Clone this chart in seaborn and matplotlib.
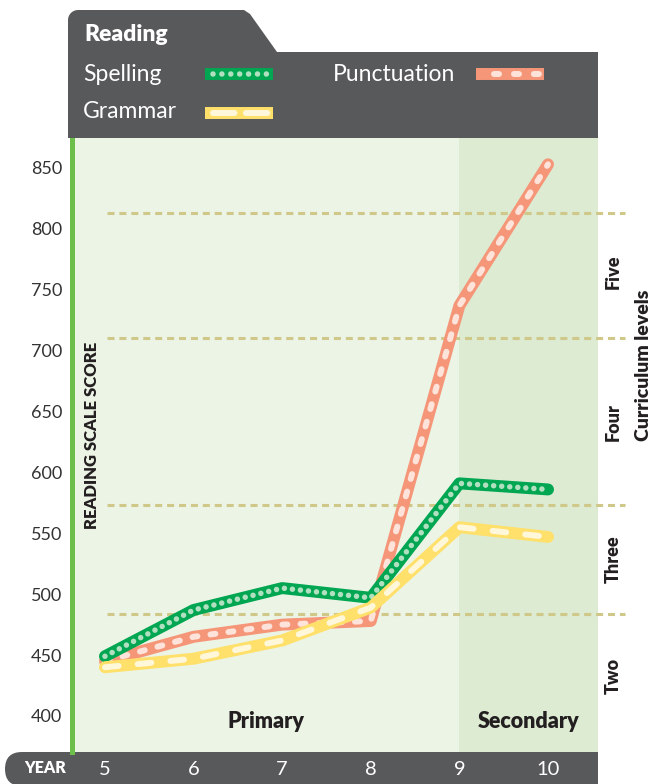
import numpy as np
import pandas as pd
import matplotlib
matplotlib.use("Agg")
import matplotlib.pyplot as plt
import matplotlib.font_manager as fm
import matplotlib.transforms as mtransforms
from matplotlib.patches import Polygon, FancyBboxPatch, Rectangle
from matplotlib.lines import Line2D
import seaborn as sns

# ---------------- data ----------------
years = [5, 6, 7, 8, 9, 10]
spelling = [449, 487, 505, 497, 591, 586]
punctuation = [445, 465, 475, 478, 737, 853]
grammar = [440, 447, 462, 489, 555, 547]
y_ticks = [400, 450, 500, 550, 600, 650, 700, 750, 800, 850]
level_bounds = [484, 573, 710, 813]
level_names = ["Two", "Three", "Four", "Five"]
stage_names = ["Primary", "Secondary"]
secondary_start = 9
title = "Reading"
y_label = "READING SCALE SCORE"
x_label = "YEAR"
right_label = "Curriculum levels"

# ---------------- styles ----------------
DARK = "#58595b"
TXT = "#231f20"
BG = "#ecf4e6"
BG2 = "#dcebd2"
BOLD = "heavy"
styles = {
    "Spelling": dict(outer="#00a651", inner="#b0e0bf", ls=(0, (0.001, 1.45)), ilw=4.0, z=4),
    "Punctuation": dict(outer="#f69679", inner="#fde3da", ls=(0, (0.84, 2.2)), ilw=4.3, z=3),
    "Grammar": dict(outer="#ffe06a", inner="#fff7d9", ls=(0, (2.3, 3.2)), ilw=4.3, z=5),
}

sns.set_theme(style="white")


def pick(cands):
    for c in cands:
        try:
            fm.findfont(fm.FontProperties(family=c), fallback_to_default=False)
            return c
        except Exception:
            pass
    return "DejaVu Sans"


FONT = pick(["Lato", "Liberation Sans", "DejaVu Sans"])
plt.rcParams["font.family"] = [FONT, "DejaVu Sans"]

W, H = 663, 784
fig = plt.figure(figsize=(W / 100, H / 100), dpi=100)
fig.patch.set_facecolor("white")
L, R, T, B = 72, 598, 138, 752
ax = fig.add_axes([L / W, 1 - B / H, (R - L) / W, (B - T) / H])
ax.set_facecolor(BG)
XMIN, XMAX = 4.628, 10.564
ax.set_xlim(XMIN, XMAX)
ax.set_ylim(370.4, 874.6)
ax.axvspan(secondary_start, XMAX, color=BG2, lw=0, zorder=0)

for s in ["top", "right", "bottom"]:
    ax.spines[s].set_visible(False)
ax.spines["left"].set_color("#6cbf4a")
ax.spines["left"].set_linewidth(3.6)

# curriculum level boundaries
for b in level_bounds:
    ax.axhline(b, xmin=0.066, xmax=1.051, color="#cfc889", lw=2.2,
               linestyle=(0, (2.3, 1.6)), clip_on=False, zorder=1)

# data lines
df = pd.DataFrame({
    "year": years * 3,
    "score": spelling + punctuation + grammar,
    "subject": ["Spelling"] * 6 + ["Punctuation"] * 6 + ["Grammar"] * 6,
})
for name in ["Punctuation", "Spelling", "Grammar"]:
    st = styles[name]
    sub = df[df["subject"] == name]
    sns.lineplot(data=sub, x="year", y="score", ax=ax, color=st["outer"], lw=8.6,
                 solid_capstyle="round", solid_joinstyle="round", zorder=st["z"],
                 estimator=None, sort=False)
    sns.lineplot(data=sub, x="year", y="score", ax=ax, color=st["inner"], lw=st["ilw"],
                 linestyle=st["ls"], dash_capstyle="round", dash_joinstyle="round",
                 zorder=st["z"] + 0.5, estimator=None, sort=False)

ax.set_xlabel("")
ax.set_ylabel("")
ax.set_yticks(y_ticks)
ax.set_yticklabels([str(v) for v in y_ticks])
ax.tick_params(axis="y", length=0, pad=7, labelsize=13, labelcolor="#333333")
ax.set_xticks(years)
ax.set_xticklabels([str(v) for v in years])
ax.tick_params(axis="x", length=0, pad=6.5, labelsize=14.5, labelcolor="white")
ax.grid(False)

# stage labels
stage_centers = [(XMIN + secondary_start) / 2, (secondary_start + XMAX) / 2]
tb = mtransforms.blended_transform_factory(ax.transData, ax.transAxes)
for nm, cx in zip(stage_names, stage_centers):
    ax.text(cx, 0.039, nm, transform=tb, ha="center", va="baseline",
            fontsize=15.5, fontweight=BOLD, color=TXT)

# y label inside
ax.text(0.038, 0.515, y_label, transform=ax.transAxes, rotation=90, ha="center",
        va="center", fontsize=12, fontweight=BOLD, color=TXT)

# level labels right
lv_edges = [382] + level_bounds + [820]
tr_r = mtransforms.blended_transform_factory(ax.transAxes, ax.transData)
for i, nm in enumerate(level_names):
    yc = (lv_edges[i] + lv_edges[i + 1]) / 2
    if nm == "Five":
        yc = (level_bounds[2] + level_bounds[3]) / 2 + 3
    ax.text(1.0285, yc, nm, transform=tr_r, rotation=90, ha="center", va="center",
            fontsize=13, fontweight=BOLD, color=TXT, clip_on=False)
ax.text(1.0856, 0.630, right_label, transform=ax.transAxes, rotation=90, ha="center",
        va="center", fontsize=14, fontweight=BOLD, color=TXT, clip_on=False)

# ---------------- figure decorations (pixel -> inch) ----------------
trf = fig.dpi_scale_trans


def P(x, y):
    return (x / 100, (H - y) / 100)


# year bar
bar = FancyBboxPatch(P(5, 786), (640 - 5) / 100, 34 / 100,
                     boxstyle="round,pad=0,rounding_size=0.17", transform=trf,
                     fc=DARK, ec="none", zorder=-2)
fig.add_artist(bar)
fig.add_artist(Rectangle(P(598, 790), 0.7, 0.5, transform=trf, fc="white", ec="none", zorder=-1))
fig.text(45 / W, 1 - 768 / H, x_label, ha="center", va="center", color="white",
         fontsize=11.5, fontweight=BOLD)

# header
pts = [P(68, 138), P(68, 20)]
for t in np.linspace(180, 90, 8):
    r = np.radians(t)
    pts.append(P(78 + 10 * np.cos(r), 20 - 10 * np.sin(r)))
pts += [P(244, 10), P(250, 14), P(277, 52), P(598, 52), P(598, 138)]
fig.add_artist(Polygon(pts, closed=True, transform=trf, fc=DARK, ec="none", zorder=1))

fig.text(84 / W, 1 - 41 / H, title, color="white", fontsize=16.5, fontweight=BOLD,
         ha="left", va="baseline", zorder=3)
fig.text(83 / W, 1 - 81 / H, "Spelling", color="white", fontsize=16.5, ha="left",
         va="baseline", zorder=3)
fig.text(333 / W, 1 - 81 / H, "Punctuation", color="white", fontsize=16.5, ha="left",
         va="baseline", zorder=3)
fig.text(83 / W, 1 - 118 / H, "Grammar", color="white", fontsize=16.5, ha="left",
         va="baseline", zorder=3)


def swatch(x0, x1, y, name, ix0, ix1, ls):
    st = styles[name]
    fig.add_artist(Line2D([P(x0, y)[0], P(x1, y)[0]], [P(x0, y)[1]] * 2, transform=trf,
                          color=st["outer"], lw=8.6, solid_capstyle="butt", zorder=2))
    fig.add_artist(Line2D([P(ix0, y)[0], P(ix1, y)[0]], [P(ix0, y)[1]] * 2, transform=trf,
                          color=st["inner"], lw=st["ilw"], linestyle=ls,
                          dash_capstyle="round", zorder=2.5))


swatch(205, 273, 74, "Spelling", 213, 268, (0, (0.001, 1.6)))
swatch(476, 544, 74, "Punctuation", 494, 541, (0, (0.84, 2.5)))
swatch(205, 273, 113, "Grammar", 213, 268, (0, (3.6, 1.9)))

fig.savefig("out.png", dpi=100, facecolor="white")
